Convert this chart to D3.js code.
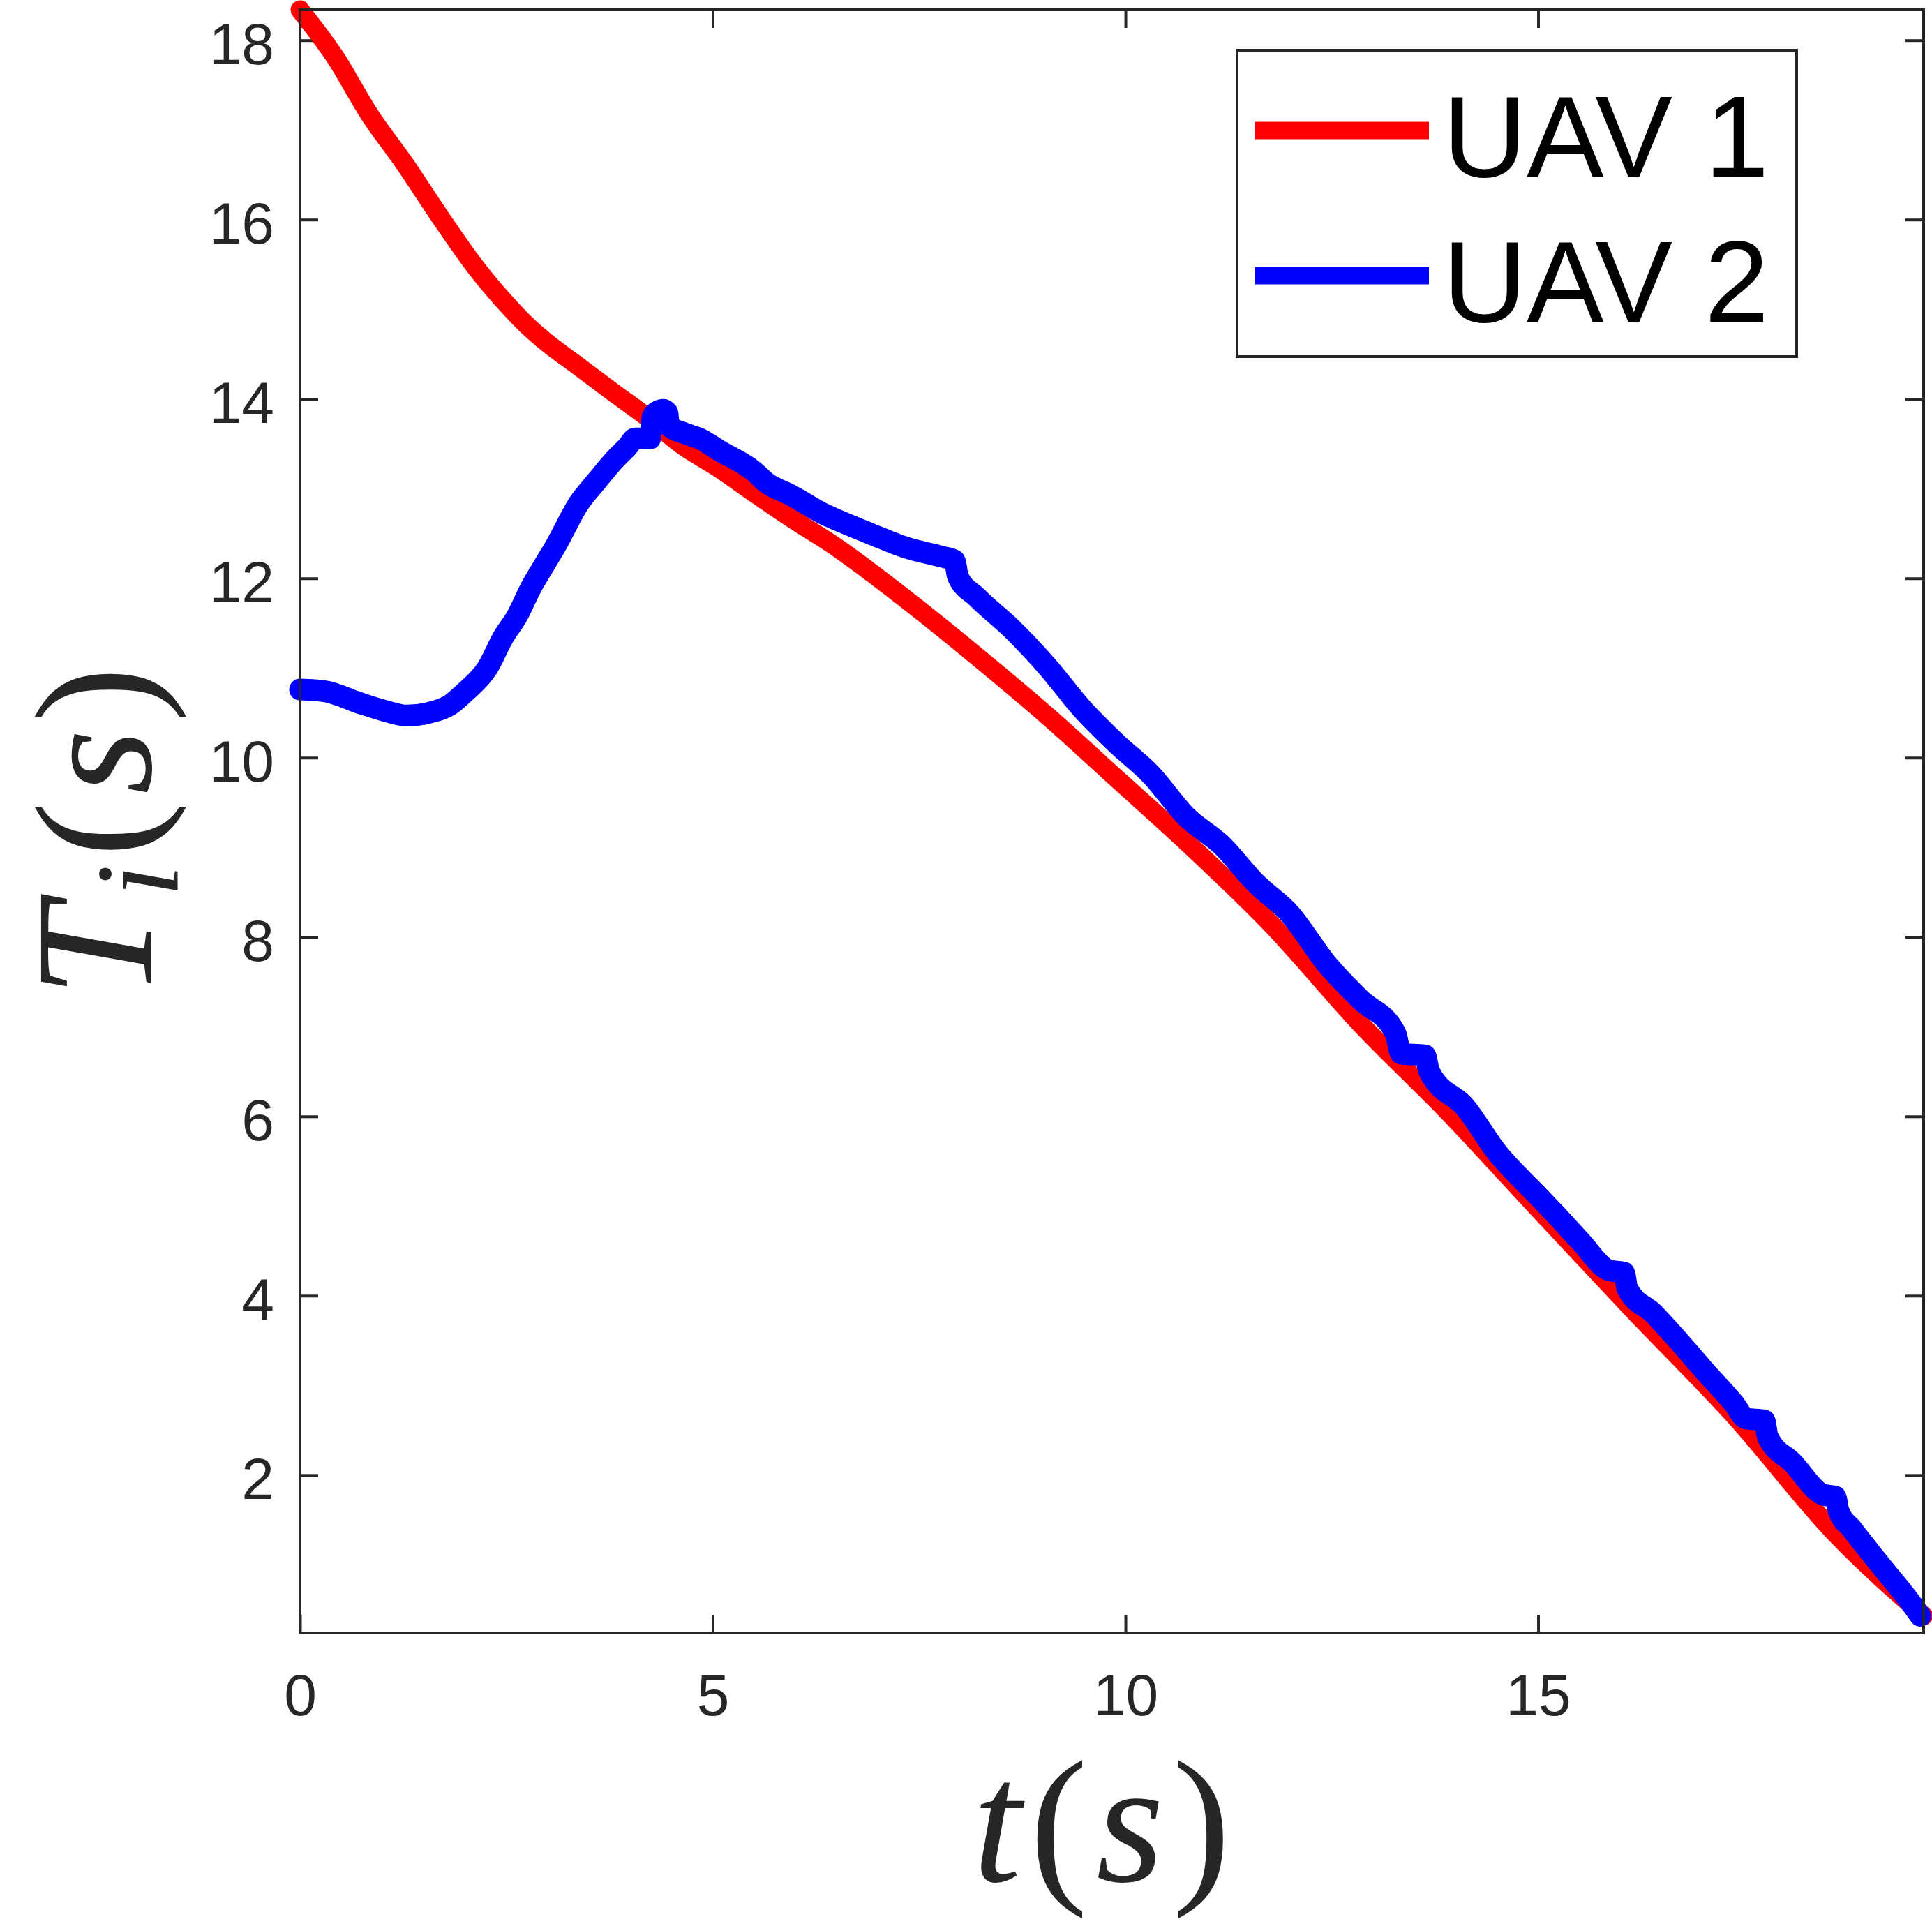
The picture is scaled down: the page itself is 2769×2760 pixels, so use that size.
<!DOCTYPE html>
<html>
<head>
<meta charset="utf-8">
<script src="https://cdn.jsdelivr.net/npm/d3@7"></script>
<style>
  html, body { margin: 0; padding: 0; background: #ffffff; }
  svg { display: block; }
</style>
</head>
<body>
<div id="chart"></div>
<script>
// ---------- data ----------
const seriesNames = ["UAV 1", "UAV 2"];
const seriesColors = ["#ff0000", "#0000ff"];

const tUAV1 = [0, 0.42, 0.85, 1.27, 1.69, 2.11, 2.54, 2.75, 2.96, 3.38, 3.8, 4.23, 4.65, 5.07, 5.49, 5.92, 6.51, 7.35, 8.2, 9.05, 9.89, 10.74, 11.79, 12.85, 13.91, 14.91, 16.11, 17.37, 18.62, 19.67];
const vUAV1 = [18.34, 17.82, 17.16, 16.62, 16.04, 15.49, 15.02, 14.82, 14.65, 14.36, 14.07, 13.78, 13.47, 13.23, 12.96, 12.69, 12.34, 11.76, 11.13, 10.47, 9.77, 9.06, 8.12, 7.03, 6.05, 5.06, 3.88, 2.67, 1.33, 0.43];

const tUAV2 = [0, 0.3, 0.72, 1.0, 1.3, 1.56, 1.82, 2.01, 2.27, 2.46, 2.63, 2.8, 2.96, 3.09, 3.38, 3.59, 3.8, 3.97, 4.06, 4.24, 4.27, 4.33, 4.4, 4.45, 4.47, 4.65, 4.86, 5.07, 5.49, 5.66, 5.92, 6.0, 6.34, 6.51, 6.93, 7.35, 7.78, 7.93, 7.97, 8.2, 8.62, 9.05, 9.47, 9.89, 10.31, 10.74, 11.16, 11.58, 12.0, 12.43, 12.85, 13.27, 13.34, 13.63, 13.68, 14.12, 14.5, 14.96, 15.21, 15.5, 15.87, 16.04, 16.08, 16.4, 16.65, 17.0, 17.37, 17.52, 17.74, 17.78, 18.08, 18.46, 18.6, 18.64, 18.8, 19.1, 19.52, 19.63];
const vUAV2 = [10.76, 10.74, 10.61, 10.53, 10.47, 10.5, 10.59, 10.74, 11.0, 11.34, 11.58, 11.9, 12.15, 12.35, 12.84, 13.08, 13.31, 13.47, 13.56, 13.56, 13.8, 13.86, 13.88, 13.85, 13.7, 13.62, 13.55, 13.43, 13.2, 13.06, 12.94, 12.9, 12.72, 12.65, 12.49, 12.34, 12.24, 12.2, 12.02, 11.79, 11.44, 11.02, 10.55, 10.16, 9.81, 9.34, 9.03, 8.6, 8.25, 7.71, 7.3, 6.93, 6.7, 6.68, 6.5, 6.1, 5.6, 5.15, 4.91, 4.62, 4.28, 4.26, 4.08, 3.8, 3.55, 3.18, 2.8, 2.63, 2.61, 2.43, 2.14, 1.78, 1.76, 1.6, 1.4, 1.05, 0.57, 0.43];

const xTicks = [0, 5, 10, 15];
const yTicks = [2, 4, 6, 8, 10, 12, 14, 16, 18];
const xDomain = [0, 19.67];
const yDomain = [0.24, 18.34];

// ---------- layout ----------
const W = 2769, H = 2760;
const plot = { left: 430, right: 2757, top: 14, bottom: 2340 };
const axisColor = "#262626";
const tickLen = 26;

const svg = d3.select("#chart").append("svg")
  .attr("width", W).attr("height", H)
  .attr("viewBox", `0 0 ${W} ${H}`);

svg.append("rect").attr("width", W).attr("height", H).attr("fill", "#fff");

const x = d3.scaleLinear().domain(xDomain).range([plot.left, plot.right]);
const y = d3.scaleLinear().domain(yDomain).range([plot.bottom, plot.top]);

// ---------- axes ----------
const fontTick = "'Liberation Sans', Arial, Helvetica, sans-serif";

const gx = svg.append("g").attr("transform", `translate(0,${plot.bottom})`)
  .call(d3.axisBottom(x).tickValues(xTicks).tickSizeInner(-tickLen).tickSizeOuter(0).tickPadding(58).tickFormat(d3.format("d")));
const gxTop = svg.append("g").attr("transform", `translate(0,${plot.top})`)
  .call(d3.axisTop(x).tickValues(xTicks).tickSizeInner(-tickLen).tickSizeOuter(0).tickFormat(""));
const gy = svg.append("g").attr("transform", `translate(${plot.left},0)`)
  .call(d3.axisLeft(y).tickValues(yTicks).tickSizeInner(-tickLen).tickSizeOuter(0).tickPadding(37).tickFormat(d3.format("d")));
const gyRight = svg.append("g").attr("transform", `translate(${plot.right},0)`)
  .call(d3.axisRight(y).tickValues(yTicks).tickSizeInner(-tickLen).tickSizeOuter(0).tickFormat(""));

[gx, gxTop, gy, gyRight].forEach(g => {
  g.select(".domain").remove();
  g.selectAll(".tick line").attr("stroke", axisColor).attr("stroke-width", 4);
  g.selectAll(".tick text").attr("fill", axisColor)
    .style("font-family", fontTick).style("font-size", "84px");
});
gy.selectAll(".tick text").attr("dy", "0.40em");

// ---------- lines ----------
const line = d3.line().x(d => x(d[0])).y(d => y(d[1])).curve(d3.curveMonotoneX);
const data1 = tUAV1.map((t, i) => [t, vUAV1[i]]);
const data2 = tUAV2.map((t, i) => [t, vUAV2[i]]);

svg.append("path").datum(data1)
  .attr("d", line).attr("fill", "none")
  .attr("stroke", seriesColors[0]).attr("stroke-width", 27)
  .attr("stroke-linejoin", "round").attr("stroke-linecap", "round");
svg.append("path").datum(data2)
  .attr("d", line).attr("fill", "none")
  .attr("stroke", seriesColors[1]).attr("stroke-width", 31)
  .attr("stroke-linejoin", "round").attr("stroke-linecap", "round");

// axes box
svg.append("rect")
  .attr("x", plot.left).attr("y", plot.top)
  .attr("width", plot.right - plot.left).attr("height", plot.bottom - plot.top)
  .attr("fill", "none").attr("stroke", axisColor).attr("stroke-width", 4);

// ---------- legend ----------
const leg = { left: 1773, top: 72, right: 2575, bottom: 511 };
svg.append("rect")
  .attr("x", leg.left).attr("y", leg.top)
  .attr("width", leg.right - leg.left).attr("height", leg.bottom - leg.top)
  .attr("fill", "#fff").attr("stroke", axisColor).attr("stroke-width", 4);
const legRowsY = [187, 395];
seriesNames.forEach((name, i) => {
  svg.append("line")
    .attr("x1", 1799).attr("x2", 2048)
    .attr("y1", legRowsY[i]).attr("y2", legRowsY[i])
    .attr("stroke", seriesColors[i]).attr("stroke-width", 25);
  svg.append("text")
    .attr("x", 2068).attr("y", legRowsY[i] + 66)
    .attr("fill", "#000")
    .style("font-family", fontTick).style("font-size", "166px")
    .text(name);
});

// ---------- axis labels ----------
const fontMath = "'Liberation Serif', 'Times New Roman', serif";
const xl = svg.append("text")
  .attr("x", 1585).attr("y", 2696)
  .attr("text-anchor", "middle").attr("fill", axisColor)
  .style("font-family", fontMath).style("font-size", "250px")
  .style("letter-spacing", "12px");
xl.append("tspan").style("font-style", "italic").text("t");
xl.append("tspan").text("(");
xl.append("tspan").style("font-style", "italic").text("s");
xl.append("tspan").text(")");

const yl = svg.append("text")
  .attr("transform", "translate(216,1187) rotate(-90)")
  .attr("text-anchor", "middle").attr("fill", axisColor)
  .style("font-family", fontMath).style("font-size", "240px")
  .style("letter-spacing", "10px");
yl.append("tspan").style("font-style", "italic").text("T");
yl.append("tspan").style("font-style", "italic").style("font-size", "170px").attr("dy", 38).text("i");
yl.append("tspan").attr("dy", -38).text("(");
yl.append("tspan").style("font-style", "italic").text("s");
yl.append("tspan").text(")");
</script>
</body>
</html>
